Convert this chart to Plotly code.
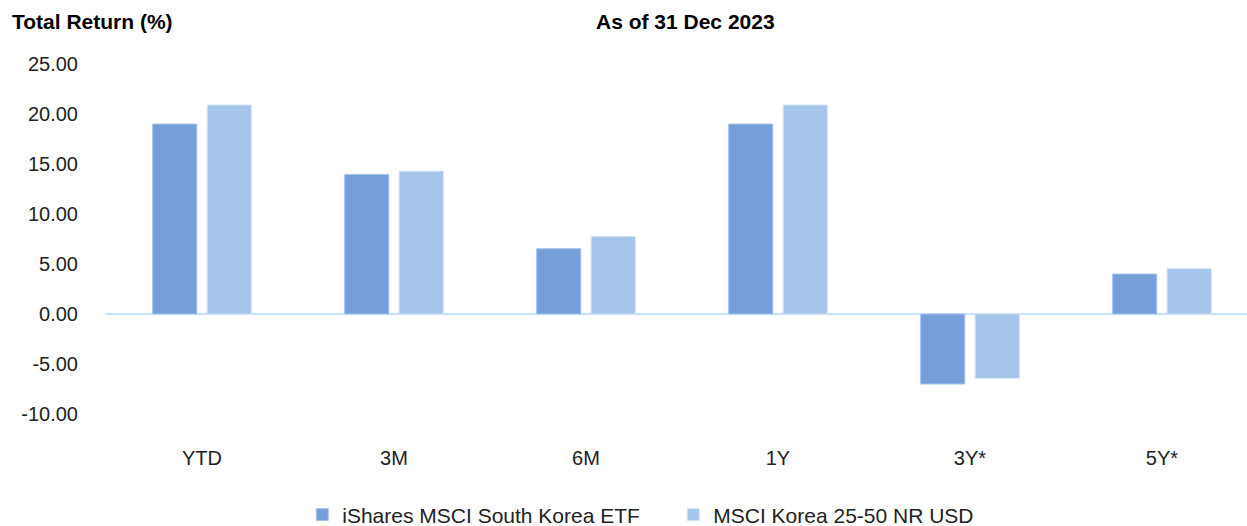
import plotly.graph_objects as go

# data
periods = ['YTD', '3M', '6M', '1Y', '3Y*', '5Y*']
fund_name = 'iShares MSCI South Korea ETF'
index_name = 'MSCI Korea 25-50 NR USD'
fund_returns = [19.00, 13.96, 6.53, 19.00, -7.00, 4.00]
index_returns = [20.90, 14.28, 7.76, 20.90, -6.43, 4.54]
y_ticks = [-10, -5, 0, 5, 10, 15, 20, 25]
y_tick_labels = ['-10.00', '-5.00', '0.00', '5.00', '10.00', '15.00', '20.00', '25.00']

font_family = 'Liberation Sans, Arial, sans-serif'
text_color = '#222222'


def main():
    data = [
        go.Bar(
            x=periods,
            y=fund_returns,
            name=fund_name,
            marker=dict(color='#769ED9', line=dict(color='#A9C3EC', width=1)),
        ),
        go.Bar(
            x=periods,
            y=index_returns,
            name=index_name,
            marker=dict(color='#A4C4E9', line=dict(color='#D3E3F6', width=1)),
        ),
    ]

    layout = go.Layout(
        width=1247,
        height=526,
        margin=dict(l=106, r=0, t=64, b=112),
        paper_bgcolor='white',
        plot_bgcolor='white',
        font=dict(family=font_family, size=20, color=text_color),
        barmode='group',
        bargap=0.432,
        bargroupgap=0.19,
        xaxis=dict(
            range=[-0.5, 5.443],
            showgrid=False,
            showline=False,
            ticks='',
            automargin=False,
            ticklabelstandoff=30,
            tickfont=dict(size=20, color=text_color),
        ),
        yaxis=dict(
            range=[-10, 25],
            tickvals=y_ticks,
            ticktext=y_tick_labels,
            showgrid=False,
            showline=False,
            zeroline=True,
            zerolinecolor='#C5E6FA',
            zerolinewidth=2,
            ticks='',
            automargin=False,
            ticklabelstandoff=27,
            tickfont=dict(size=20, color=text_color),
        ),
        legend=dict(
            orientation='h',
            xref='container',
            yref='container',
            x=0.2424,
            xanchor='left',
            y=0.021,
            yanchor='middle',
            entrywidth=326,
            font=dict(size=21, color=text_color),
            traceorder='normal',
        ),
        annotations=[
            dict(
                text='<b>Total Return (%)</b>',
                xref='paper', yref='paper',
                x=-0.084, y=1.12,
                xanchor='left', yanchor='middle',
                showarrow=False,
                font=dict(size=21, color='#000000'),
            ),
            dict(
                text='<b>As of 31 Dec 2023</b>',
                xref='paper', yref='paper',
                x=0.508, y=1.12,
                xanchor='center', yanchor='middle',
                showarrow=False,
                font=dict(size=21, color='#000000'),
            ),
        ],
    )

    fig = go.Figure(data=data, layout=layout)
    # drop the default page margin so the figure sits at the top-left corner
    fig.write_html(
        'out.html',
        config={'displayModeBar': False},
        post_script="document.body.style.margin='0';",
    )


if __name__ == '__main__':
    main()
